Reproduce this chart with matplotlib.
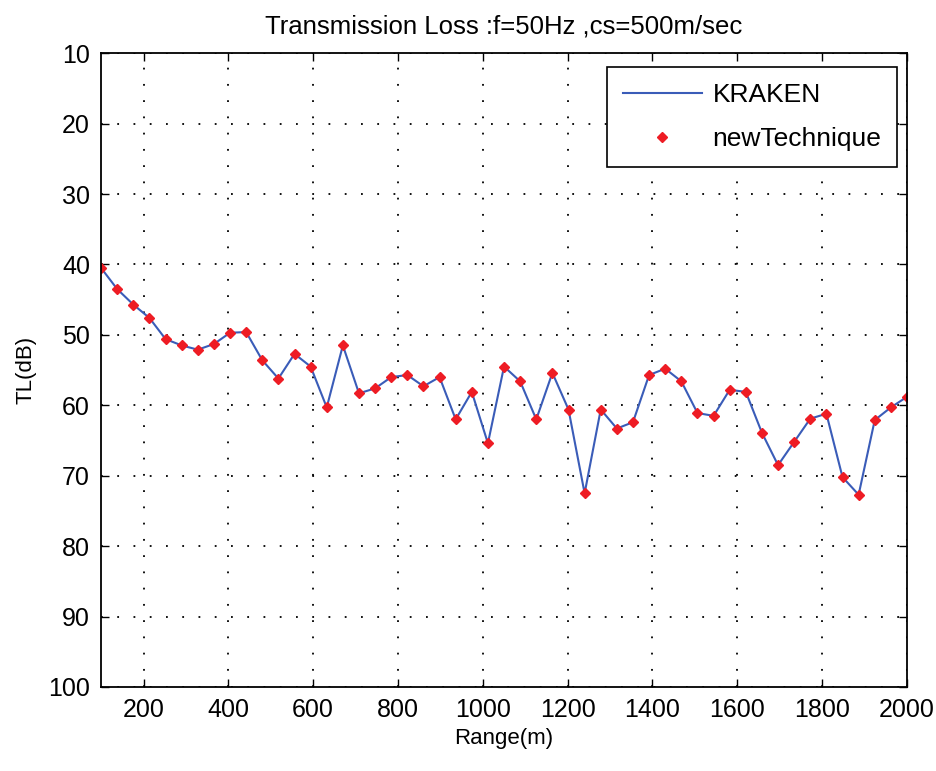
import matplotlib.pyplot as plt
import numpy as np

# range points (m) and transmission loss (dB)
ranges = np.arange(100, 2001, 38)
tl = [40.5, 43.5, 45.7, 47.6, 50.6, 51.5, 52.1, 51.3, 49.7, 49.6,
      53.6, 56.2, 52.7, 54.5, 60.3, 51.5, 58.3, 57.6, 56.0, 55.7,
      57.3, 56.0, 62.0, 58.1, 65.4, 54.5, 56.6, 62.0, 55.4, 60.6,
      72.5, 60.6, 63.3, 62.4, 55.7, 54.8, 56.6, 61.1, 61.5, 57.8,
      58.1, 63.9, 68.5, 65.2, 61.9, 61.2, 70.2, 72.7, 62.1, 60.3,
      58.8]

xticks = list(range(200, 2001, 200))
yticks = list(range(10, 101, 10))

plt.rcParams['font.family'] = ['Liberation Sans', 'DejaVu Sans']

fig = plt.figure(figsize=(9.36, 7.71), dpi=100)
ax = fig.add_axes([0.108, 0.109, 0.861, 0.822])

ax.plot(ranges, tl, color='#3a5cb8', linewidth=1.5, label='KRAKEN')
ax.plot(ranges, tl, linestyle='none', marker='D', markersize=5,
        color='#ee1c24', label='newTechnique')

ax.set_xlim(100, 2000)
ax.set_ylim(100, 10)
ax.set_xticks(xticks)
ax.set_yticks(yticks)
ax.tick_params(direction='in', length=6, width=1, labelsize=18,
               top=True, right=True, pad=8)
ax.grid(True, color='black', linestyle=(0, (1, 8)), linewidth=1.3)
for s in ax.spines.values():
    s.set_linewidth(1.3)

ax.set_title('Transmission Loss :f=50Hz ,cs=500m/sec', fontsize=18.5, pad=14)
ax.set_xlabel('Range(m)', fontsize=16, labelpad=4)
ax.set_ylabel('TL(dB)', fontsize=16, labelpad=8)

leg = ax.legend(loc='upper right', fontsize=19, frameon=True, fancybox=False,
                edgecolor='black', framealpha=1, borderpad=0.6,
                handlelength=3.0, handletextpad=0.4, labelspacing=0.75,
                borderaxespad=0, bbox_to_anchor=(0.988, 0.978))
leg.get_frame().set_linewidth(1.2)

fig.savefig('out.png', dpi=100)
